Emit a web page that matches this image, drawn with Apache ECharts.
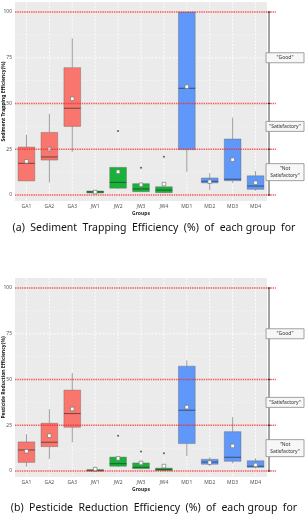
<!DOCTYPE html>
<html><head><meta charset="utf-8">
<script src="https://cdn.jsdelivr.net/npm/echarts@6/dist/echarts.min.js"></script>
<style>html,body{margin:0;padding:0;background:#fff}#c{width:308px;height:518px}</style>
</head><body><div id="c"></div>
<script>
// ---------- data ----------
const categories = ['GA1','GA2','GA3','JW1','JW2','JW3','JW4','MD1','MD2','MD3','MD4'];
const yTicks = [0, 25, 50, 75, 100];
const yMinorTicks = [12.5, 37.5, 62.5, 87.5];
const thresholds = [0, 25, 50, 100];
const ratingLabels = ['"Good"', '"Satisfactory"', '"Not\nSatisfactory"'];
const ratingMids = [75, 37.5, 12.5];

// Sediment trapping efficiency (%)
const sedLow  = [7.5, 6.9, 23.7, 0.8, 3.2, 1.5, 1.0, 12.7, 2.7, 6.7, 2.3];
const sedQ1   = [7.7, 19.1, 37.5, 1.1, 3.7, 1.8, 1.3, 24.8, 6.6, 7.8, 3.1];
const sedMed  = [17.3, 20.8, 47.4, 1.7, 6.9, 3.3, 2.7, 58.3, 7.5, 8.6, 4.9];
const sedQ3   = [26.2, 34.2, 69.6, 2.2, 15.1, 6.2, 4.5, 100, 9.3, 30.6, 10.5];
const sedHigh = [32.8, 44.3, 85.6, 2.5, 15.1, 6.5, 4.5, 100, 11.9, 42.2, 13.1];
const sedMean = [18.4, 25.1, 52.6, 1.6, 12.7, 5.6, 6.0, 59.2, 7.3, 19.3, 6.7];
const sedOutliers = [['JW2', 35.0], ['JW3', 14.9], ['JW4', 20.9]];

// Pesticide reduction efficiency (%)
const pesLow  = [2.4, 6.6, 15.7, 0.0, 2.0, 1.0, 0.1, 8.2, 2.7, 4.2, 1.4];
const pesQ1   = [4.7, 13.3, 23.9, 0.2, 2.6, 1.3, 0.2, 15.0, 3.7, 5.3, 2.0];
const pesMed  = [11.5, 15.7, 31.4, 0.4, 4.0, 2.0, 0.8, 33.2, 4.9, 7.5, 2.6];
const pesQ3   = [15.9, 26.1, 44.2, 0.7, 7.6, 4.4, 1.6, 57.3, 6.4, 21.5, 5.6];
const pesHigh = [20.1, 33.8, 53.5, 1.0, 7.6, 4.4, 1.6, 60.4, 7.5, 29.4, 6.9];
const pesMean = [10.8, 19.3, 33.9, 1.0, 6.9, 4.4, 2.7, 34.9, 4.6, 13.7, 3.3];
const pesOutliers = [['JW2', 19.2], ['JW3', 10.6], ['JW4', 9.7]];

const sedTitle = 'Sediment Trapping Efficiency(%)';
const pesTitle = 'Pesticide Reduction Efficiency(%)';
const captionA = '(a)  Sediment  Trapping  Efficiency  (%)  of  each group  for';
const captionB = '(b)  Pesticide  Reduction  Efficiency  (%)  of  each group  for';

// ---------- styles ----------
const groupColors = { GA: '#F8766D', JW: '#18B23A', MD: '#5F98F8' };
const Y_LO = -3.3, Y_HI = 105.5;

function boxData(lo, q1, md, q3, hi, mn) {
  return categories.map((c, i) => [i, lo[i], q1[i], md[i], q3[i], hi[i], mn[i]]);
}

function panelSeries(idx, title) {
  return {
    type: 'custom', xAxisIndex: idx, yAxisIndex: idx, z: 1, clip: false, silent: true,
    data: [[0]],
    renderItem(params, api) {
      const cs = params.coordSys;
      const yt = api.coord([0, Y_HI])[1], yb = api.coord([0, Y_LO])[1];
      const ch = [{ type: 'rect', shape: { x: cs.x, y: yt, width: cs.width, height: yb - yt }, style: { fill: '#EBEBEB' } }];
      yMinorTicks.forEach(v => { const y = api.coord([0, v])[1];
        ch.push({ type: 'line', shape: { x1: cs.x, y1: y, x2: cs.x + cs.width, y2: y }, style: { stroke: '#FAFAFA', lineWidth: 0.6, lineDash: [1.5, 1.5] } }); });
      yTicks.forEach(v => { const y = api.coord([0, v])[1];
        ch.push({ type: 'line', shape: { x1: cs.x, y1: y, x2: cs.x + cs.width, y2: y }, style: { stroke: '#FFFFFF', lineWidth: 0.9, lineDash: [2, 1.5] } }); });
      categories.forEach((c, i) => { const x = api.coord([i, 0])[0];
        ch.push({ type: 'line', shape: { x1: x, y1: yt, x2: x, y2: yb }, style: { stroke: '#FFFFFF', lineWidth: 0.9, lineDash: [2, 1.5] } }); });
      ch.push({ type: 'text', x: cs.x - 11, y: (yt + yb) / 2, rotation: Math.PI / 2,
        style: { text: title, fill: '#111', fontSize: 5, fontWeight: 'bold', fontFamily: 'Noto Sans', align: 'center', verticalAlign: 'middle' } });
      return { type: 'group', children: ch };
    }
  };
}

function boxSeries(idx, data) {
  return {
    type: 'custom', xAxisIndex: idx, yAxisIndex: idx, z: 4, clip: false,
    data: data,
    renderItem(params, api) {
      const i = api.value(0);
      const col = groupColors[categories[i].slice(0, 2)];
      const x = api.coord([i, 0])[0];
      const w = api.size([1, 0])[0] * 0.73;
      const yl = api.coord([i, api.value(1)])[1], y1 = api.coord([i, api.value(2)])[1];
      const ym = api.coord([i, api.value(3)])[1], y3 = api.coord([i, api.value(4)])[1];
      const yh = api.coord([i, api.value(5)])[1], yn = api.coord([i, api.value(6)])[1];
      return { type: 'group', children: [
        { type: 'line', shape: { x1: x, y1: yh, x2: x, y2: y3 }, style: { stroke: '#9E9E9E', lineWidth: 1 } },
        { type: 'line', shape: { x1: x, y1: y1, x2: x, y2: yl }, style: { stroke: '#9E9E9E', lineWidth: 1 } },
        { type: 'rect', shape: { x: x - w / 2, y: y3, width: w, height: Math.max(y1 - y3, 1.5) }, style: { fill: col, stroke: 'rgba(90,90,90,0.45)', lineWidth: 0.8 } },
        { type: 'line', shape: { x1: x - w / 2, y1: ym, x2: x + w / 2, y2: ym }, style: { stroke: 'rgba(40,40,40,0.6)', lineWidth: 1.1 } },
        { type: 'rect', shape: { x: x - 1.8, y: yn - 1.8, width: 3.6, height: 3.6 }, style: { fill: '#FFFFFF', stroke: '#777777', lineWidth: 0.7 } }
      ]};
    }
  };
}

function outlierSeries(idx, pts) {
  return { type: 'scatter', xAxisIndex: idx, yAxisIndex: idx, z: 5, symbol: 'circle', symbolSize: 2,
    itemStyle: { color: '#333333' }, data: pts, silent: true };
}

function refSeries(idx) {
  return {
    type: 'custom', xAxisIndex: idx, yAxisIndex: idx, z: 6, clip: false, silent: true,
    data: [[0]],
    renderItem(params, api) {
      const cs = params.coordSys;
      const ch = [];
      const xr = cs.x + cs.width;
      const xa = xr + 2;
      thresholds.forEach(v => { const y = api.coord([0, v])[1];
        ch.push({ type: 'line', shape: { x1: cs.x, y1: y, x2: xr + 9, y2: y }, style: { stroke: 'rgba(245,40,40,0.75)', lineWidth: 1.3, lineDash: [1.5, 0.8] } });
        ch.push({ type: 'line', shape: { x1: xa - 1.2, y1: y, x2: xa + 1.2, y2: y }, style: { stroke: '#222', lineWidth: 1 } });
      });
      ch.push({ type: 'line', shape: { x1: xa, y1: api.coord([0, 100])[1], x2: xa, y2: api.coord([0, 0])[1] }, style: { stroke: '#333', lineWidth: 0.9 } });
      ratingLabels.forEach((t, k) => {
        const y = api.coord([0, ratingMids[k]])[1];
        const lines = t.split('\n').length;
        const h = lines === 1 ? 10 : 17;
        ch.push({ type: 'rect', shape: { x: xr - 1, y: y - h / 2, width: 38, height: h }, style: { fill: '#F7F7F7', stroke: '#8C8C8C', lineWidth: 0.8 } });
        ch.push({ type: 'text', x: xr + 18, y: y, style: { text: t, fill: '#333', fontSize: 5, fontFamily: 'Noto Sans', align: 'center', verticalAlign: 'middle', lineHeight: 7 } });
      });
      return { type: 'group', children: ch };
    }
  };
}

const grids = [
  { left: 15, top: 12, width: 252, height: 183, containLabel: false, outerBoundsMode: 'none' },
  { left: 15, top: 288, width: 252, height: 183, containLabel: false, outerBoundsMode: 'none' }
];

function xAxis(idx) {
  return { type: 'category', gridIndex: idx, data: categories, boundaryGap: true,
    axisLine: { show: false }, axisTick: { show: false }, splitLine: { show: false },
    axisLabel: { fontSize: 5, color: '#555', margin: 9, fontFamily: 'Noto Sans', interval: 0 },
    name: 'Groups', nameLocation: 'middle', nameGap: 16,
    nameTextStyle: { fontSize: 5, fontWeight: 'bold', color: '#222', fontFamily: 'Noto Sans' } };
}
function yAxis(idx) {
  return { type: 'value', gridIndex: idx, min: 0, max: 100, interval: 25,
    axisLine: { show: false }, axisTick: { show: false }, splitLine: { show: false },
    axisLabel: { fontSize: 5, color: '#555', margin: 3, fontFamily: 'Noto Sans' } };
}

const chart = echarts.init(document.getElementById('c'), null, { renderer: 'canvas' });
chart.setOption({
  animation: false,
  backgroundColor: '#FFFFFF',
  title: [
    { text: captionA, left: 'center', top: 218, textStyle: { fontSize: 10.5, fontWeight: 'normal', color: '#111', fontFamily: 'Noto Sans' } },
    { text: captionB, left: 'center', top: 498, textStyle: { fontSize: 10.5, fontWeight: 'normal', color: '#111', fontFamily: 'Noto Sans' } }
  ],
  grid: grids,
  xAxis: [xAxis(0), xAxis(1)],
  yAxis: [yAxis(0), yAxis(1)],
  series: [
    panelSeries(0, sedTitle), panelSeries(1, pesTitle),
    boxSeries(0, boxData(sedLow, sedQ1, sedMed, sedQ3, sedHigh, sedMean)),
    boxSeries(1, boxData(pesLow, pesQ1, pesMed, pesQ3, pesHigh, pesMean)),
    outlierSeries(0, sedOutliers), outlierSeries(1, pesOutliers),
    refSeries(0), refSeries(1)
  ]
});
</script></body></html>
